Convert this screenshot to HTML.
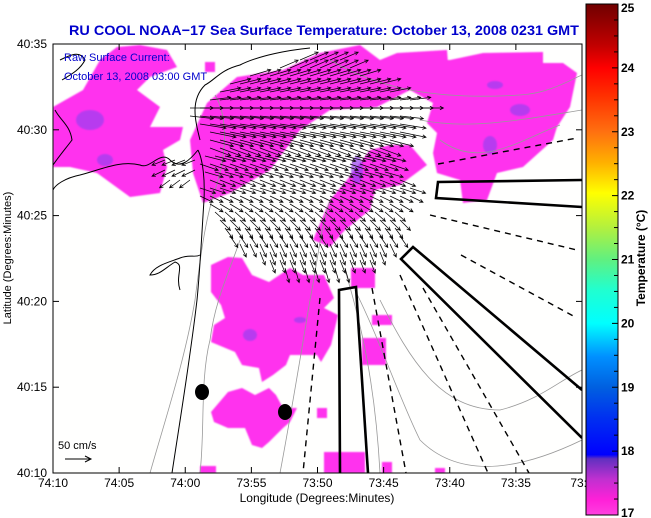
<!DOCTYPE html>
<html><head><meta charset="utf-8">
<style>
html,body{margin:0;padding:0;background:#fff;}
svg{display:block;font-family:"Liberation Sans",Arial,sans-serif;}
</style></head>
<body>
<svg id="chart" width="651" height="518" viewBox="0 0 651 518" xmlns="http://www.w3.org/2000/svg">
<defs>
 <linearGradient id="cbar" x1="0" y1="1" x2="0" y2="0">
  <stop offset="0" stop-color="#ff40e0"/>
  <stop offset="0.03" stop-color="#ff20d8"/>
  <stop offset="0.07" stop-color="#c030d0"/>
  <stop offset="0.11" stop-color="#6030c0"/>
  <stop offset="0.118" stop-color="#0000ff"/>
  <stop offset="0.19" stop-color="#0030f0"/>
  <stop offset="0.25" stop-color="#0060e0"/>
  <stop offset="0.31" stop-color="#0090ff"/>
  <stop offset="0.375" stop-color="#00ffff"/>
  <stop offset="0.44" stop-color="#20ffd0"/>
  <stop offset="0.5" stop-color="#60f080"/>
  <stop offset="0.56" stop-color="#b0f040"/>
  <stop offset="0.63" stop-color="#ffff00"/>
  <stop offset="0.69" stop-color="#ffb000"/>
  <stop offset="0.75" stop-color="#ff7010"/>
  <stop offset="0.82" stop-color="#ff3000"/>
  <stop offset="0.875" stop-color="#ff0000"/>
  <stop offset="0.92" stop-color="#c00000"/>
  <stop offset="1" stop-color="#700000"/>
 </linearGradient>
 <clipPath id="plotclip"><rect x="53" y="44" width="529" height="429"/></clipPath>
 <filter id="soft"><feGaussianBlur stdDeviation="0.8"/></filter>
</defs>

<text x="69" y="35" font-size="14" font-weight="bold" fill="#0000cc" textLength="510" lengthAdjust="spacingAndGlyphs">RU COOL  NOAA−17  Sea Surface Temperature:  October 13, 2008 0231 GMT</text>

<g clip-path="url(#plotclip)">
 <rect x="53" y="44" width="529" height="429" fill="#fffffe"/>
 <g id="sst" fill="#ff33ee" filter="url(#soft)">
  <polygon points="53,107 83,90 100,60 117,47 140,45 167,50 177,67 150,77 137,90 160,107 150,127 183,127 180,140 163,150 167,167 160,193 130,197 97,173 70,167 53,167"/>
  <polygon points="190,140 207,103 237,77 283,70 320,53 360,45 380,60 397,53 447,50 450,90 410,90 377,107 330,110 300,130 270,170 230,193 203,203 193,173"/>
  <polygon points="450,60 483,53 543,52 543,63 563,63 577,73 570,107 557,127 553,140 523,167 497,173 487,200 463,203 460,180 437,173 433,153 437,133 427,123 433,103 410,90 447,60"/>
  <polygon points="313,240 330,200 347,180 370,150 390,145 410,145 427,165 400,185 375,190 370,210 345,230 330,247"/>
  <polygon points="211,265 228,257 242,258 252,275 269,282 290,268 303,275 324,275 334,298 324,308 338,315 331,345 321,362 317,355 290,355 286,365 273,375 262,382 259,368 242,365 235,352 211,342 214,325 225,318 221,305 211,292"/>
  <polygon points="211,412 228,392 242,388 255,395 269,388 276,395 283,408 297,408 290,422 283,428 269,442 262,448 252,445 245,428 228,428 214,422"/>
  <rect x="317" y="408" width="10" height="10"/>
  <rect x="372" y="315" width="20" height="10"/>
  <rect x="362" y="338" width="24" height="27"/>
  <rect x="351" y="268" width="24" height="20"/>
  <rect x="324" y="452" width="41" height="21"/>
  <rect x="382" y="462" width="10" height="11"/>
  <rect x="200" y="466" width="16" height="7"/>
  <rect x="435" y="468" width="10" height="5"/>
  <rect x="205" y="62" width="10" height="10"/>
 </g>
 <g fill="#9a40f0" opacity="0.7" filter="url(#soft)">
  <ellipse cx="90" cy="120" rx="14" ry="10"/>
  <ellipse cx="105" cy="160" rx="8" ry="6"/>
  <ellipse cx="357" cy="170" rx="6" ry="14"/>
  <ellipse cx="490" cy="145" rx="7" ry="9"/>
  <ellipse cx="520" cy="110" rx="10" ry="6"/>
  <ellipse cx="495" cy="85" rx="8" ry="4"/>
  <ellipse cx="250" cy="335" rx="7" ry="6"/>
  <ellipse cx="300" cy="320" rx="6" ry="3"/>
 </g>
 <g fill="none" stroke="#999" stroke-width="0.8">
  <path d="M150,473 C165,420 185,360 195,300 C200,260 205,220 215,190 C225,160 230,120 215,95"/>
  <path d="M200,473 C205,430 200,380 210,340 C215,300 230,270 240,240"/>
  <path d="M280,473 C290,420 300,360 310,300 C318,260 320,230 330,200"/>
  <path d="M345,270 C360,320 375,380 380,473"/>
  <path d="M355,290 C380,340 400,400 420,440 C460,480 520,470 582,440"/>
  <path d="M380,300 C410,360 440,410 500,410 C540,400 560,380 582,370"/>
  <path d="M330,60 C380,90 440,100 520,95 C550,93 570,80 582,75"/>
  <path d="M420,120 C470,130 520,120 582,110"/>
  <path d="M440,140 C480,170 520,140 560,125"/>
 </g>
 <g fill="none" stroke="#000" stroke-width="1">
  <path d="M172,473 C180,420 190,360 197,300 C200,270 202,230 204,200 C205,180 203,160 198,150"/>
  <path d="M198,150 C190,160 180,170 170,160 C160,150 150,170 140,165 C120,160 100,170 80,175 C65,178 55,185 53,190"/>
  <path d="M53,165 C60,155 66,148 72,140 C70,125 60,120 55,110"/>
  <path d="M180,290 C175,275 185,265 175,262 C165,268 160,275 150,275 C155,265 170,262 180,258 C190,254 195,258 200,255"/>
  <path d="M200,140 C195,120 190,100 205,85 C215,80 220,70 240,65 C260,55 290,50 310,48"/>
  <path d="M60,60 C70,55 80,50 85,60 C80,70 70,75 62,80"/>
 </g>
 <g fill="none" stroke="#000" stroke-width="1.4" stroke-dasharray="6,5">
  <path d="M438,164 L577,138"/>
  <path d="M430,215 L577,250"/>
  <path d="M461,255 L577,318"/>
  <path d="M320,298 L303,473"/>
  <path d="M372,288 L406,473"/>
  <path d="M423,288 L529,473"/>
  <path d="M400,275 L488,473"/>
 </g>
 <g fill="none" stroke="#000" stroke-width="2.6">
  <polyline points="582,180 438,182 436,198 582,207"/>
  <polyline points="582,438 401,259 413,247 582,390"/>
  <polyline points="340,473 339,290 356,287 368,473"/>
 </g>
 <g fill="#000">
  <ellipse cx="202" cy="392" rx="7" ry="8"/>
  <ellipse cx="285" cy="412" rx="7" ry="8"/>
 </g>
 <g id="arrows" stroke="#000" stroke-width="0.75" fill="none"></g>
</g>

<rect x="53" y="44" width="529" height="429" fill="none" stroke="#000" stroke-width="1"/>
<g id="ticks" stroke="#000" stroke-width="1"></g>
<g id="xlabels" font-size="12" text-anchor="middle"></g>
<g id="ylabels" font-size="12" text-anchor="end"></g>

<text x="64" y="61" font-size="11" fill="#0000cc">Raw Surface Current:</text>
<text x="64" y="80" font-size="11" fill="#0000cc">October 13, 2008 03:00 GMT</text>
<text x="58" y="449" font-size="11">50 cm/s</text>
<g stroke="#000" fill="none" stroke-width="1">
 <line x1="65" y1="459" x2="91" y2="459"/><polyline points="85,456 91,459 85,462"/>
</g>

<text x="317" y="502" font-size="12" text-anchor="middle">Longitude (Degrees:Minutes)</text>
<text transform="translate(11,258) rotate(-90)" font-size="11" text-anchor="middle">Latitude (Degrees:Minutes)</text>

<rect x="586" y="4" width="32" height="511" fill="url(#cbar)" stroke="#000" stroke-width="1"/>
<g id="cticks" stroke="#000"></g>
<g id="clabels" font-size="12" font-weight="bold"></g>
<text transform="translate(645,258) rotate(-90)" font-size="12" font-weight="bold" text-anchor="middle">Temperature (°C)</text>
</svg>
<script>
const xTickLabels = ["74:10","74:05","74:00","73:55","73:50","73:45","73:40","73:35","73:3"];
const yTickLabels = ["40:35","40:30","40:25","40:20","40:15","40:10"];
const cbarTicks = [17,18,19,20,21,22,23,24,25];
// current vector rows: pixel-row latitude, lon start/end (pixels), u, v (cm/s)
const rowY  = [60,68,76,84,92,100,108,116,124,132,140,148,156,164,172,180,188,196,204,212,220,228,236,244,252,260,268,160,170,180];
const rowX0 = [300,280,250,230,220,210,190,190,200,210,210,210,205,200,205,210,200,200,210,215,220,225,230,240,260,270,285,165,165,170];
const rowX1 = [340,350,360,380,390,410,420,400,400,400,390,380,390,390,390,400,410,410,400,400,400,400,400,390,380,370,345,195,195,195];
const rowU  = [35,35,40,40,40,40,45,45,50,50,45,40,40,35,35,30,30,25,25,20,20,15,15,12,10,10,8,-25,-25,-20];
const rowV  = [15,15,12,10,8,5,0,-5,-8,-10,-12,-15,-10,-12,-10,-12,-10,-12,-15,-18,-20,-20,-22,-25,-25,-25,-28,-10,-12,-15];

const NS='http://www.w3.org/2000/svg';
const X0=53,X1=582,Y0=44,Y1=473;
function xPos(i){return X0+(X1-X0)*i/(xTickLabels.length-1);}
function yPos(i){return Y0+(Y1-Y0)*i/(yTickLabels.length-1);}
function cPos(v){return 515-(v-17)/(25-17)*511;}
const cmToPx=0.52;

const ticks=document.getElementById('ticks');
const xl=document.getElementById('xlabels');
xTickLabels.forEach((t,i)=>{
 const x=xPos(i);
 const l=document.createElementNS(NS,'line');
 l.setAttribute('x1',x);l.setAttribute('x2',x);l.setAttribute('y1',Y1);l.setAttribute('y2',Y1-6);
 
 
 ticks.appendChild(l);
 const l2=document.createElementNS(NS,'line');
 l2.setAttribute('x1',x);l2.setAttribute('x2',x);l2.setAttribute('y1',Y0);l2.setAttribute('y2',Y0+6);
 
 
 ticks.appendChild(l2);
 const tx=document.createElementNS(NS,'text');
 tx.setAttribute('x',x);tx.setAttribute('y',487);tx.textContent=t;
 
 
 xl.appendChild(tx);
});
const yl=document.getElementById('ylabels');
yTickLabels.forEach((t,i)=>{
 const y=yPos(i);
 const l=document.createElementNS(NS,'line');
 l.setAttribute('x1',X0);l.setAttribute('x2',X0+6);l.setAttribute('y1',y);l.setAttribute('y2',y);
 
 
 ticks.appendChild(l);
 const l2=document.createElementNS(NS,'line');
 l2.setAttribute('x1',X1);l2.setAttribute('x2',X1-6);l2.setAttribute('y1',y);l2.setAttribute('y2',y);
 
 
 ticks.appendChild(l2);
 const tx=document.createElementNS(NS,'text');
 tx.setAttribute('x',47);tx.setAttribute('y',y+4);tx.textContent=t;
 
 
 yl.appendChild(tx);
});
const ct=document.getElementById('cticks'),cl=document.getElementById('clabels');
for(let v=17;v<=25.001;v+=0.25){
 const y=cPos(v);
 const l=document.createElementNS(NS,'line');
 l.setAttribute('x1',618);l.setAttribute('x2',Math.abs(v-Math.round(v))<0.01?612:614);
 l.setAttribute('y1',y);l.setAttribute('y2',y);
 
 
 ct.appendChild(l);
}
cbarTicks.forEach(v=>{
 const tx=document.createElementNS(NS,'text');
 let y=cPos(v)+4; if(v===25)y=12; if(v===17)y=517;
 tx.setAttribute('x',621);tx.setAttribute('y',y);tx.textContent=v;
 
 
 cl.appendChild(tx);
});
const ag=document.getElementById('arrows');
rowY.forEach((y,r)=>{
 const dx=rowU[r]*cmToPx, dy=-rowV[r]*cmToPx;
 const len=Math.hypot(dx,dy)||1, ux=dx/len, uy=dy/len;
 for(let x=rowX0[r]; x<=rowX1[r]; x+=10){
  const xe=x+dx, ye=y+dy;
  const p=document.createElementNS(NS,'path');
  const h=3.5;
  const ax=xe-ux*h-uy*h*0.5, ay=ye-uy*h+ux*h*0.5;
  const bx=xe-ux*h+uy*h*0.5, by=ye-uy*h-ux*h*0.5;
  p.setAttribute('d',`M${x},${y}L${xe},${ye}M${ax},${ay}L${xe},${ye}L${bx},${by}`);
  
  
  ag.appendChild(p);
 }
});
</script>
</body></html>
